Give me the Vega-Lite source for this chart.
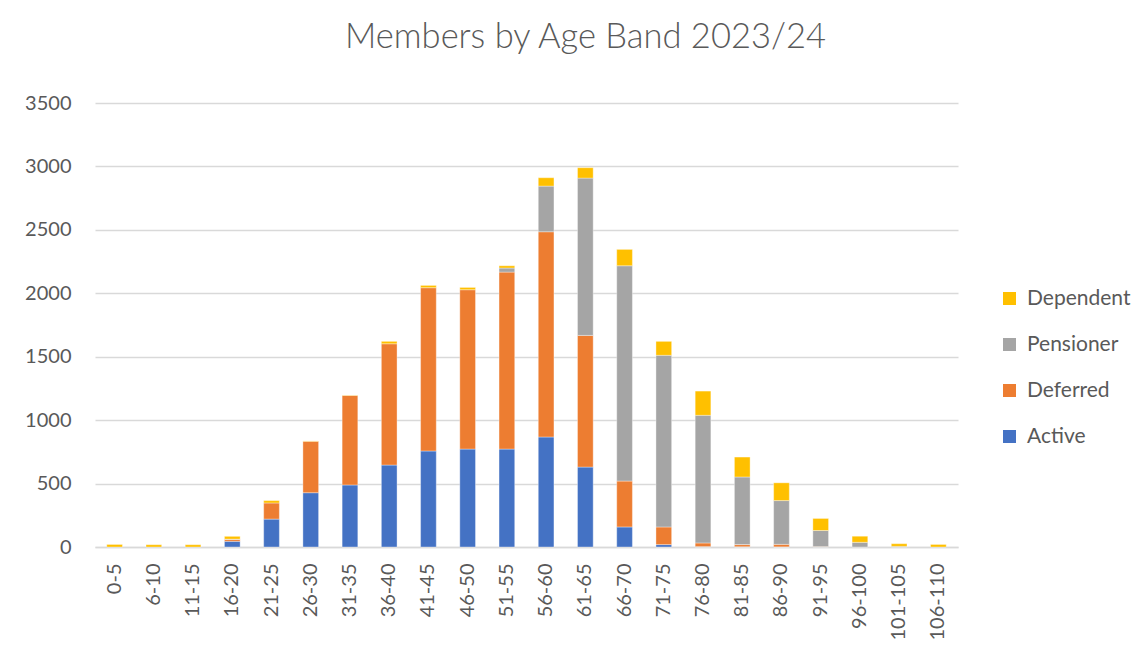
{
  "$schema": "https://vega.github.io/schema/vega-lite/v6.json",
  "width": 863,
  "height": 444,
  "autosize": {"type": "none"},
  "padding": {"left": 95, "top": 103, "right": 189, "bottom": 110},
  "background": "white",
  "title": {
    "text": "Members by Age Band 2023/24",
    "anchor": "middle",
    "frame": "group",
    "dx": 59,
    "offset": 38,
    "font": "Lato",
    "fontSize": 34.5,
    "fontWeight": 300,
    "color": "#595959"
  },
  "datasets": {
    "statuses": [
      {"status": "Active", "rank": 1},
      {"status": "Deferred", "rank": 2},
      {"status": "Pensioner", "rank": 3},
      {"status": "Dependent", "rank": 4}
    ]
  },
  "data": {
    "values": [
      {"age": "0-5", "status": "Dependent", "count": 20},
      {"age": "6-10", "status": "Dependent", "count": 18},
      {"age": "11-15", "status": "Dependent", "count": 18},
      {"age": "16-20", "status": "Active", "count": 45},
      {"age": "16-20", "status": "Deferred", "count": 15},
      {"age": "16-20", "status": "Pensioner", "count": 2},
      {"age": "16-20", "status": "Dependent", "count": 22},
      {"age": "21-25", "status": "Active", "count": 220},
      {"age": "21-25", "status": "Deferred", "count": 127},
      {"age": "21-25", "status": "Dependent", "count": 19},
      {"age": "26-30", "status": "Active", "count": 428},
      {"age": "26-30", "status": "Deferred", "count": 405},
      {"age": "26-30", "status": "Dependent", "count": 3},
      {"age": "31-35", "status": "Active", "count": 489},
      {"age": "31-35", "status": "Deferred", "count": 706},
      {"age": "31-35", "status": "Dependent", "count": 3},
      {"age": "36-40", "status": "Active", "count": 646},
      {"age": "36-40", "status": "Deferred", "count": 956},
      {"age": "36-40", "status": "Dependent", "count": 19},
      {"age": "41-45", "status": "Active", "count": 757},
      {"age": "41-45", "status": "Deferred", "count": 1287},
      {"age": "41-45", "status": "Dependent", "count": 18},
      {"age": "46-50", "status": "Active", "count": 772},
      {"age": "46-50", "status": "Deferred", "count": 1256},
      {"age": "46-50", "status": "Dependent", "count": 18},
      {"age": "51-55", "status": "Active", "count": 772},
      {"age": "51-55", "status": "Deferred", "count": 1395},
      {"age": "51-55", "status": "Pensioner", "count": 32},
      {"age": "51-55", "status": "Dependent", "count": 18},
      {"age": "56-60", "status": "Active", "count": 867},
      {"age": "56-60", "status": "Deferred", "count": 1618},
      {"age": "56-60", "status": "Pensioner", "count": 360},
      {"age": "56-60", "status": "Dependent", "count": 66},
      {"age": "61-65", "status": "Active", "count": 630},
      {"age": "61-65", "status": "Deferred", "count": 1038},
      {"age": "61-65", "status": "Pensioner", "count": 1240},
      {"age": "61-65", "status": "Dependent", "count": 82},
      {"age": "66-70", "status": "Active", "count": 158},
      {"age": "66-70", "status": "Deferred", "count": 362},
      {"age": "66-70", "status": "Pensioner", "count": 1697},
      {"age": "66-70", "status": "Dependent", "count": 129},
      {"age": "71-75", "status": "Active", "count": 19},
      {"age": "71-75", "status": "Deferred", "count": 139},
      {"age": "71-75", "status": "Pensioner", "count": 1353},
      {"age": "71-75", "status": "Dependent", "count": 110},
      {"age": "76-80", "status": "Active", "count": 3},
      {"age": "76-80", "status": "Deferred", "count": 29},
      {"age": "76-80", "status": "Pensioner", "count": 1006},
      {"age": "76-80", "status": "Dependent", "count": 191},
      {"age": "81-85", "status": "Active", "count": 2},
      {"age": "81-85", "status": "Deferred", "count": 17},
      {"age": "81-85", "status": "Pensioner", "count": 533},
      {"age": "81-85", "status": "Dependent", "count": 157},
      {"age": "86-90", "status": "Active", "count": 1},
      {"age": "86-90", "status": "Deferred", "count": 20},
      {"age": "86-90", "status": "Pensioner", "count": 345},
      {"age": "86-90", "status": "Dependent", "count": 140},
      {"age": "91-95", "status": "Deferred", "count": 3},
      {"age": "91-95", "status": "Pensioner", "count": 127},
      {"age": "91-95", "status": "Dependent", "count": 95},
      {"age": "96-100", "status": "Pensioner", "count": 37},
      {"age": "96-100", "status": "Dependent", "count": 48},
      {"age": "101-105", "status": "Pensioner", "count": 5},
      {"age": "101-105", "status": "Dependent", "count": 21},
      {"age": "106-110", "status": "Dependent", "count": 20}
    ]
  },
  "transform": [
    {"lookup": "status", "from": {"data": {"name": "statuses"}, "key": "status", "fields": ["rank"]}}
  ],
  "mark": {"type": "bar", "stroke": "white", "strokeWidth": 0.6, "strokeOpacity": 0.6},
  "encoding": {
    "x": {
      "field": "age",
      "type": "ordinal",
      "sort": ["0-5","6-10","11-15","16-20","21-25","26-30","31-35","36-40","41-45","46-50","51-55","56-60","61-65","66-70","71-75","76-80","81-85","86-90","91-95","96-100","101-105","106-110"],
      "scale": {"paddingInner": 0.6, "paddingOuter": 0.3},
      "axis": {
        "title": null,
        "labelAngle": -90,
        "labelFont": "Lato",
        "labelFontSize": 20,
        "labelColor": "#595959",
        "labelPadding": 16,
        "ticks": false,
        "domain": true,
        "domainColor": "#D9D9D9",
        "domainWidth": 1.5,
        "grid": false
      }
    },
    "y": {
      "field": "count",
      "type": "quantitative",
      "aggregate": "sum",
      "stack": "zero",
      "scale": {"domain": [0, 3500], "nice": false},
      "axis": {
        "title": null,
        "format": "d",
        "values": [0, 500, 1000, 1500, 2000, 2500, 3000, 3500],
        "labelFont": "Lato",
        "labelFontSize": 20,
        "labelColor": "#595959",
        "labelPadding": 24,
        "ticks": false,
        "domain": false,
        "grid": true,
        "gridColor": "#D9D9D9",
        "gridWidth": 1.5
      }
    },
    "order": {"field": "rank", "type": "quantitative", "sort": "ascending"},
    "color": {
      "field": "status",
      "type": "nominal",
      "sort": ["Dependent", "Pensioner", "Deferred", "Active"],
      "scale": {
        "domain": ["Dependent", "Pensioner", "Deferred", "Active"],
        "range": ["#FFC000", "#A5A5A5", "#ED7D31", "#4472C4"]
      },
      "legend": {
        "title": null,
        "orient": "none",
        "legendX": 904,
        "legendY": 185,
        "symbolType": "square",
        "symbolSize": 169,
        "symbolStrokeWidth": 0,
        "labelFont": "Lato",
        "labelFontSize": 21,
        "labelColor": "#595959",
        "labelOffset": 7,
        "rowPadding": 24
      }
    }
  },
  "config": {
    "view": {"stroke": null}
  }
}
